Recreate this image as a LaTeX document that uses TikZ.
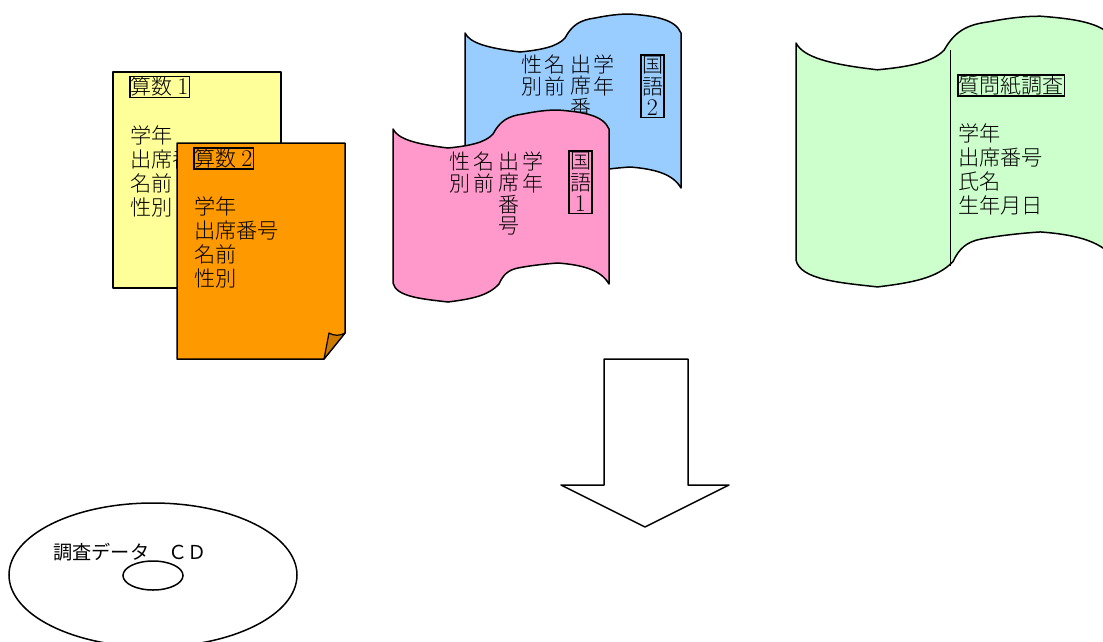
\documentclass[tikz,border=0pt]{standalone}
\usepackage{fontspec}
\newfontfamily\jp{Noto Sans CJK JP}
\newfontfamily\jplight{Noto Sans CJK JP Light}
\newcommand{\wavepath}{(0,0) .. controls (5,10) and (22,15) .. (55,19)
  .. controls (75,17) and (92,14) .. (100,5)
  .. controls (107,-8) and (115,-13) .. (130,-15)
  .. controls (145,-18) and (155,-19) .. (165,-19)
  .. controls (190,-17) and (210,-14) .. (216,0)
  -- (216,155) .. controls (208,141) and (190,136) .. (165,134)
  .. controls (150,135) and (135,137) .. (125,139)
  .. controls (115,141) and (110,146) .. (106,155)
  .. controls (95,167) and (78,170) .. (55,173)
  .. controls (30,170) and (3,168) .. (0,154) -- cycle}
\newcommand{\dg}[1]{{\normalfont\fontsize{24}{21}\selectfont #1}}
\tikzset{
  sheet/.style={draw=black,line width=1.5pt,line join=round},
  txt/.style={inner sep=0pt,outer sep=0pt,anchor=north west,align=left,font=\fontsize{21.2}{24}\selectfont\jplight},
  vtxt/.style={inner sep=0pt,outer sep=0pt,anchor=north,align=center,text width=22pt,font=\fontsize{21}{21.5}\selectfont\jplight},
  tag/.style={draw=black,line width=1.5pt,inner sep=0.8pt,outer sep=0pt,font=\fontsize{21}{21}\selectfont\jplight},
  vtag/.style={draw=black,line width=1.5pt,inner sep=1.5pt,outer sep=0pt,align=center,text width=20pt,font=\fontsize{21}{21.5}\selectfont\jplight},
}
\begin{document}
\begin{tikzpicture}[x=1pt,y=-1pt]
\useasboundingbox (0,0) rectangle (1103,641);
\clip (0,0) rectangle (1103,641);
% yellow sheet
\draw[sheet,fill={rgb,255:red,255;green,255;blue,153}] (113,72) rectangle (281,288);
\node[tag,anchor=west] (sa) at (130,87) {算数 \dg{1}};
\node[txt] (sat) at (130,125.5) {学年\\出席番号\\名前\\性別};
% orange sheet
\draw[sheet,fill={rgb,255:red,255;green,153;blue,0}] (177,143) -- (345,143) -- (345,333) -- (324,359) -- (177,359) -- cycle;
\draw[sheet,line width=1.2pt,fill={rgb,255:red,204;green,122;blue,0}] (324,359) -- (329,333) .. controls (334,336) and (340,336) .. (345,333) -- cycle;
\node[tag,anchor=west] (sb) at (194,158.5) {算数 \dg{2}};
\node[txt] (sbt) at (194,196.5) {学年\\出席番号\\名前\\性別};
% blue sheet
\begin{scope}[shift={(465,33)}]
\draw[sheet,fill={rgb,255:red,153;green,204;blue,255}] \wavepath;
\end{scope}
\node[vtxt] (b1) at (604,55) {学\\年};
\node[vtxt] (b2) at (581,55) {出\\席\\番\\号};
\node[vtxt] (b3) at (555,55) {名\\前};
\node[vtxt] (b4) at (532,55) {性\\別};
\node[vtag,anchor=north] (bt) at (652.5,55) {国\\語\\\dg{2}};
% pink sheet
\begin{scope}[shift={(393,129)}]
\draw[sheet,fill={rgb,255:red,255;green,153;blue,204}] \wavepath;
\end{scope}
\node[vtxt] (p1) at (533,152) {学\\年};
\node[vtxt] (p2) at (509,152) {出\\席\\番\\号};
\node[vtxt] (p3) at (484,152) {名\\前};
\node[vtxt] (p4) at (460,152) {性\\別};
\node[vtag,anchor=north] (pt) at (580.5,151) {国\\語\\\dg{1}};
% green sheet
\begin{scope}[shift={(796,43)},xscale=1.4815,yscale=1.41]
\draw[sheet,fill={rgb,255:red,204;green,255;blue,204}] \wavepath;
\end{scope}
\draw[line width=0.8pt] (950.5,50) -- (950.5,266);
\node[tag,anchor=west] (gt) at (958,85.5) {質問紙調査};
\node[txt] (gl) at (958,123.5) {学年\\出席番号\\氏名\\生年月日};
% arrow
\draw[sheet,fill=white,miter limit=10] (604,359) -- (688,359) -- (688,485) -- (729,485) -- (645,527) -- (561,485) -- (604,485) -- cycle;
% disc
\draw[line width=1.5pt,fill=white] (153,575) ellipse [x radius=144,y radius=72];
\draw[line width=1.5pt,fill=white] (153,575.5) ellipse [x radius=30,y radius=14.5];
\node[inner sep=0pt,anchor=west,font=\fontsize{19.2}{20}\selectfont\jp] (cd) at (53,552) {調査データ　ＣＤ};
\end{tikzpicture}
\end{document}
